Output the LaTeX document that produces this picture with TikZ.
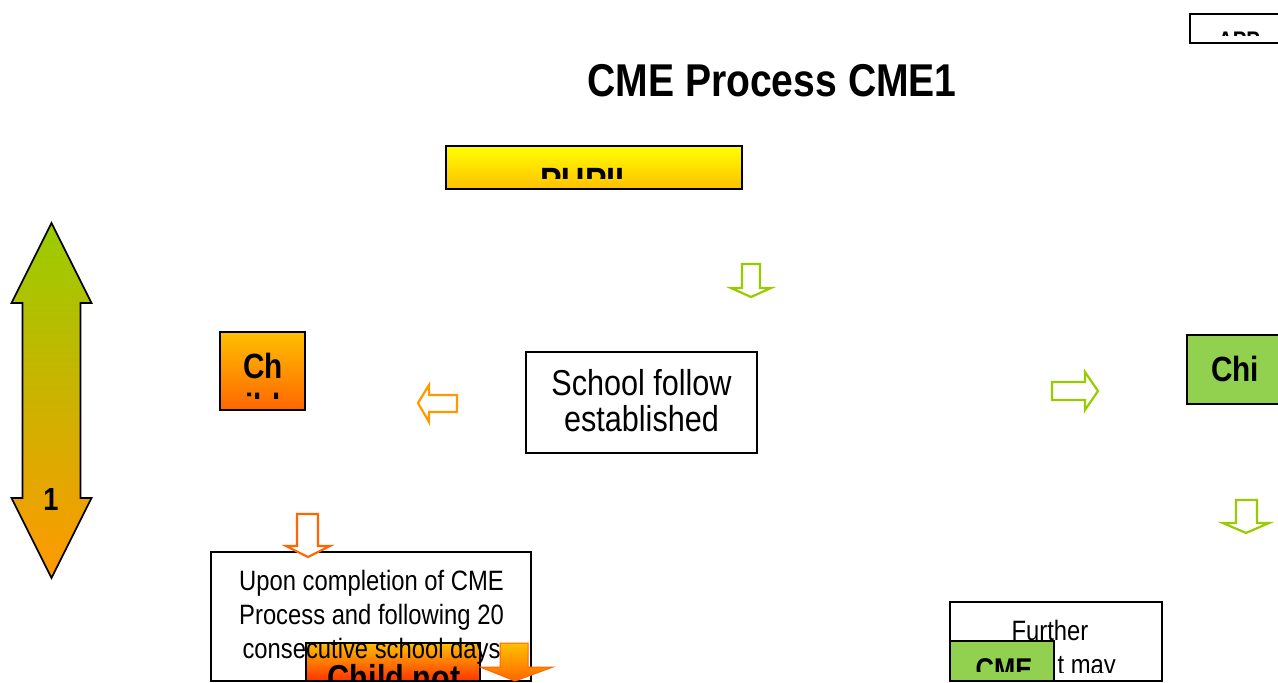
\documentclass[tikz,border=0pt]{standalone}
\usepackage{fontspec}
\setmainfont{Liberation Sans}[FakeStretch=0.85]
\usepackage{xcolor}
\usetikzlibrary{positioning}

\definecolor{cmegreen}{HTML}{92D050}
\definecolor{linegreen}{HTML}{99CC00}
\definecolor{lineorange}{HTML}{FF9900}
\definecolor{linered}{HTML}{FF6600}
\definecolor{deepred}{HTML}{FF3300}
\definecolor{goldtop}{HTML}{FFC000}

\begin{document}
\begin{tikzpicture}[x=1pt,y=-1pt,
    box/.style={draw=black,line width=1.6pt,inner sep=0pt},
    hollow/.style={line width=2.2pt,fill=white,line join=miter},
    boldtext/.style={inner sep=0pt,anchor=base,font=\bfseries\fontsize{36}{36}\selectfont},
    bodytext/.style={inner sep=0pt,anchor=base,font=\fontsize{28}{34}\selectfont}]

  \clip (0,0) rectangle (1278,683);
  \fill[white] (0,0) rectangle (1278,683);

  % Title
  \node[inner sep=0pt,anchor=base,font=\bfseries\fontsize{46}{46}\selectfont] (title) at (772,96) {CME Process CME1};

  % Top right box
  \node[box,minimum width=100pt,minimum height=29pt] (appbox) at (1240,28.5) {};
  \begin{scope}
    \clip (1192,16) rectangle (1290,35);
    \node[boldtext,font=\bfseries\fontsize{24}{24}\selectfont] (apptext) at (1239,48) {APP};
  \end{scope}

  % Pupil box
  \node[box,top color=yellow,bottom color=goldtop,minimum width=296pt,minimum height=43pt] (pupil) at (594,167.5) {};
  \begin{scope}
    \clip (448,148) rectangle (740,178);
    \node[boldtext,font=\bfseries\fontsize{38}{38}\selectfont] (pupiltext) at (588,194) {PUPIL};
  \end{scope}

  % Double arrow
  \shade[draw=black,line width=1.6pt,top color=linegreen,bottom color=lineorange]
    (51.5,223) -- (91.5,303) -- (80.5,303) -- (80.5,498) -- (91.5,498) -- (51.5,578)
    -- (11.5,498) -- (22.5,498) -- (22.5,303) -- (11.5,303) -- cycle;
  \node[boldtext,font=\bfseries\fontsize{32}{32}\selectfont] (one) at (51,510) {1};

  % Child box (left)
  \node[box,top color=goldtop,bottom color=linered,minimum width=85pt,minimum height=78pt] (chleft) at (262.5,371) {};
  \node[boldtext,font=\bfseries\fontsize{35}{35}\selectfont] (chlefttext) at (263,378) {Ch};
  \begin{scope}
    \clip (222,385) rectangle (303,398);
    \node[boldtext,font=\bfseries\fontsize{35}{35}\selectfont] (chleftmore) at (263,418) {ild};
  \end{scope}

  % Arrows round the school box
  \draw[hollow,draw=lineorange] (418,403) -- (429,385) -- (429,395) -- (457,395)
    -- (457,412) -- (429,412) -- (429,422) -- cycle;
  \draw[hollow,draw=linegreen] (742,264) -- (760,264) -- (760,288) -- (771,288)
    -- (751,297) -- (731,288) -- (742,288) -- cycle;
  \draw[hollow,draw=linegreen] (1052,382) -- (1085,382) -- (1085,372) -- (1098,391)
    -- (1085,410) -- (1085,400) -- (1052,400) -- cycle;

  % School box
  \node[box,fill=white,minimum width=231pt,minimum height=101pt] (school) at (641.5,402.5) {};
  \node[bodytext,font=\fontsize{36}{36}\selectfont] (schoolone) at (641.5,395) {School follow};
  \node[bodytext,font=\fontsize{36}{36}\selectfont] (schooltwo) at (641.5,431) {established};

  % Child box (right)
  \node[box,fill=cmegreen,minimum width=103pt,minimum height=69pt] (chright) at (1238.5,369.5) {};
  \node[boldtext,font=\bfseries\fontsize{35}{35}\selectfont] (chrighttext) at (1235,381) {Chi};
  \draw[hollow,draw=linegreen] (1236,500) -- (1257,500) -- (1257,523) -- (1269,523)
    -- (1246,533) -- (1223,523) -- (1236,523) -- cycle;

  % Lower left
  \node[box,fill=white,minimum width=320pt,minimum height=129pt] (upon) at (371,616.5) {};
  \draw[hollow,draw=linered] (297,514) -- (318,514) -- (318,546) -- (330,546)
    -- (308,557) -- (286,546) -- (297,546) -- cycle;
  \node[box,top color=goldtop,bottom color=deepred,minimum width=174pt,minimum height=38pt] (childnot) at (393,662) {};
  \begin{scope}
    \clip (308,645) rectangle (478,680);
    \node[boldtext,font=\bfseries\fontsize{36}{36}\selectfont] (childnottext) at (394,690) {Child not};
  \end{scope}
  \shade[draw=linered,line width=1pt,top color=goldtop,bottom color=linered]
    (500,643) -- (528,643) -- (528,667) -- (553,667) -- (515,681) -- (480,667) -- (500,667) -- cycle;
  \node[bodytext] (uponone) at (371.5,590) {Upon completion of CME};
  \node[bodytext] (upontwo) at (371.5,624) {Process and following 20};
  \node[bodytext] (uponthree) at (371.5,658) {consecutive school days};

  % Lower right
  \node[box,fill=white,minimum width=212pt,minimum height=79pt] (further) at (1056,641.5) {};
  \node[bodytext] (furtherone) at (1050,640) {Further};
  \begin{scope}
    \clip (952,645) rectangle (1160,672);
    \node[bodytext,anchor=base east] (furthertwo) at (1116,674) {t may};
  \end{scope}
  \node[box,fill=cmegreen,minimum width=104pt,minimum height=40pt] (cme) at (1002,661) {};
  \begin{scope}
    \clip (952,643) rectangle (1052,671);
    \node[boldtext,font=\bfseries\fontsize{30}{30}\selectfont] (cmetext) at (1004,679) {CME};
  \end{scope}
\end{tikzpicture}
\end{document}
